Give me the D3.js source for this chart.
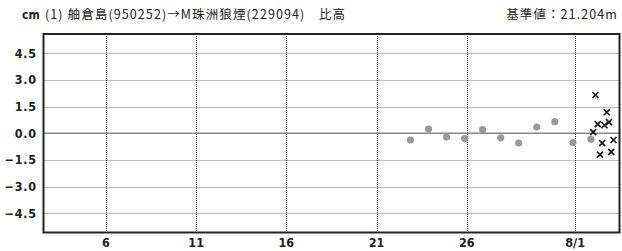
<!DOCTYPE html>
<html>
<head>
<meta charset="utf-8">
<script src="https://cdn.jsdelivr.net/npm/d3@7"></script>
<style>
  body { margin: 0; background: #fff; }
  svg { display: block; }
</style>
</head>
<body>
<svg id="chart" width="622" height="251"></svg>
<script>
// daily solutions (grey dots)
const dailyTimes = ["2023-07-22T21:00", "2023-07-23T21:00", "2023-07-24T21:00", "2023-07-25T21:00",
  "2023-07-26T21:00", "2023-07-27T21:00", "2023-07-28T21:00", "2023-07-29T21:00",
  "2023-07-30T21:00", "2023-07-31T21:00", "2023-08-01T21:00"];
const dailyValues = [-0.38, 0.24, -0.21, -0.30, 0.20, -0.26, -0.55, 0.35, 0.65, -0.52, -0.34];

// 3-hourly solutions (crosses)
const hourlyTimes = ["2023-08-02T00:00", "2023-08-02T03:00", "2023-08-02T06:00", "2023-08-02T09:00",
  "2023-08-02T12:00", "2023-08-02T15:00", "2023-08-02T18:00", "2023-08-02T21:00",
  "2023-08-03T00:00", "2023-08-03T03:00"];
const hourlyValues = [0.06, 2.15, 0.51, -1.20, -0.55, 0.45, 1.18, 0.62, -1.05, -0.38];

// axis ticks
const xTickDates = ["2023-07-06", "2023-07-11", "2023-07-16", "2023-07-21", "2023-07-26", "2023-08-01"];
const xTickLabels = ["6", "11", "16", "21", "26", "8/1"];
const yTickValues = [4.5, 3.0, 1.5, 0.0, -1.5, -3.0, -4.5];
const yTickLabels = ["4.5", "3.0", "1.5", "0.0", "\u22121.5", "\u22123.0", "\u22124.5"];

const titleLeft = "(1) 舳倉島(950252)→M珠洲狼煙(229094)\u3000比高";
const titleRight = "基準値：21.204m";

const parse = d3.timeParse("%Y-%m-%dT%H:%M");
const parseDay = d3.timeParse("%Y-%m-%d");

const svg = d3.select("#chart");
const plotLeft = 43.5, plotRight = 619.5, plotTop = 34, plotBottom = 232.5;

const x = d3.scaleTime()
  .domain([parse("2023-07-02T13:00"), parse("2023-08-03T11:00")])
  .range([plotLeft, plotRight]);
const y = d3.scaleLinear()
  .domain([-5.58, 5.58])
  .range([plotBottom, plotTop]);

const labelFont = "'Liberation Sans Narrow', 'DejaVu Sans Condensed', sans-serif";
const cjkFont = "'Noto Sans CJK JP', sans-serif";

// horizontal dotted grid
svg.append("g")
  .selectAll("line")
  .data(yTickValues.filter(d => d !== 0))
  .join("line")
  .attr("x1", plotLeft).attr("x2", plotRight)
  .attr("y1", d => Math.round(y(d)) + 0.5)
  .attr("y2", d => Math.round(y(d)) + 0.5)
  .attr("stroke", "#777")
  .attr("stroke-dasharray", "1,1");

// vertical dotted grid
svg.append("g")
  .selectAll("line")
  .data(xTickDates)
  .join("line")
  .attr("x1", d => Math.round(x(parseDay(d))) + 0.5)
  .attr("x2", d => Math.round(x(parseDay(d))) + 0.5)
  .attr("y1", plotTop).attr("y2", plotBottom)
  .attr("stroke", "#444")
  .attr("stroke-dasharray", "1,1");

// zero line
svg.append("line")
  .attr("x1", plotLeft).attr("x2", plotRight)
  .attr("y1", y(0)).attr("y2", y(0))
  .attr("stroke", "#888")
  .attr("stroke-width", 1.6);

// frame
svg.append("rect")
  .attr("x", plotLeft).attr("y", plotTop)
  .attr("width", plotRight - plotLeft).attr("height", plotBottom - plotTop)
  .attr("fill", "none")
  .attr("stroke", "#222")
  .attr("stroke-width", 2);

// y labels
svg.append("g")
  .selectAll("text")
  .data(yTickValues)
  .join("text")
  .attr("x", 37)
  .attr("y", d => y(d))
  .attr("dy", "0.36em")
  .attr("text-anchor", "end")
  .attr("font-family", labelFont)
  .attr("font-weight", "bold")
  .attr("font-size", "12.5px")
  .attr("letter-spacing", "0.8px")
  .attr("fill", "#222")
  .text((d, i) => yTickLabels[i]);

// x labels
svg.append("g")
  .selectAll("text")
  .data(xTickDates)
  .join("text")
  .attr("x", d => x(parseDay(d)))
  .attr("y", 247)
  .attr("text-anchor", "middle")
  .attr("font-family", labelFont)
  .attr("font-weight", "bold")
  .attr("font-size", "12.5px")
  .attr("fill", "#222")
  .text((d, i) => xTickLabels[i]);

// grey dots
svg.append("g")
  .selectAll("circle")
  .data(dailyTimes)
  .join("circle")
  .attr("cx", d => x(parse(d)))
  .attr("cy", (d, i) => y(dailyValues[i]))
  .attr("r", 3.6)
  .attr("fill", "#999");

// crosses
const s = 3;
svg.append("g")
  .selectAll("path")
  .data(hourlyTimes)
  .join("path")
  .attr("d", (d, i) => {
    const cx = x(parse(d)), cy = y(hourlyValues[i]);
    return `M${cx - s},${cy - s}L${cx + s},${cy + s}M${cx - s},${cy + s}L${cx + s},${cy - s}`;
  })
  .attr("stroke", "#1a1a1a")
  .attr("stroke-width", 1.7)
  .attr("fill", "none");

// title
svg.append("text")
  .attr("x", 22).attr("y", 19)
  .attr("font-family", labelFont)
  .attr("font-weight", "bold")
  .attr("font-size", "12px")
  .attr("fill", "#222")
  .text("cm");

svg.append("text")
  .attr("x", 45).attr("y", 19)
  .attr("font-family", cjkFont)
  .attr("font-size", "12.5px")
  .attr("letter-spacing", "1.1px")
  .attr("fill", "#222")
  .text(titleLeft);

svg.append("text")
  .attr("x", 618).attr("y", 19)
  .attr("text-anchor", "end")
  .attr("font-family", cjkFont)
  .attr("font-size", "12.5px")
  .attr("letter-spacing", "1.1px")
  .attr("fill", "#222")
  .text(titleRight);
</script>
</body>
</html>
